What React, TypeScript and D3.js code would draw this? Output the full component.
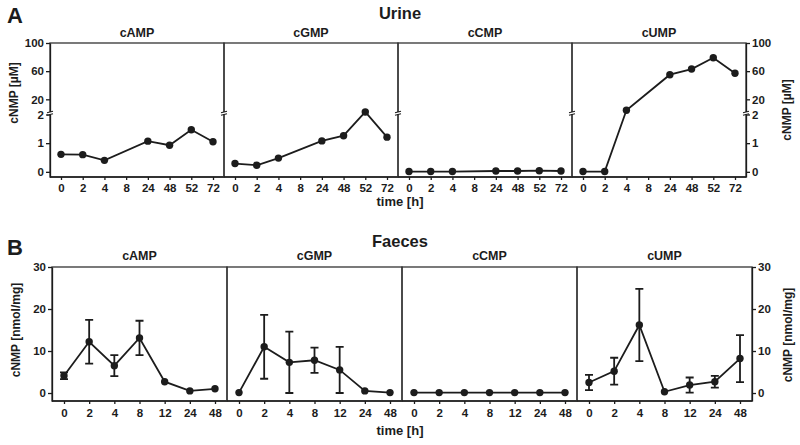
import React, { useRef, useEffect } from 'react';
import * as d3 from 'd3';

// ---- data ----
const urineTimes = ['0', '2', '4', '8', '24', '48', '52', '72'];
const urineCAMP = [0.61, 0.6, 0.4, null, 1.07, 0.93, 1.47, 1.05];
const urineCGMP = [0.29, 0.23, 0.48, null, 1.08, 1.26, 2.1, 1.21];
const urineCCMP = [0.01, 0.01, 0.01, null, 0.03, 0.03, 0.04, 0.03];
const urineCUMP = [0.01, 0.01, 4.5, null, 55, 63, 79, 57];

const faecesTimes = ['0', '2', '4', '8', '12', '24', '48'];
const faecesCAMP = [4.1, 12.2, 6.5, 13.1, 2.7, 0.5, 1.0];
const faecesCAMPErr = [0.8, 5.2, 2.5, 4.1, 0, 0, 0];
const faecesCGMP = [0.1, 11.0, 7.3, 7.8, 5.5, 0.5, 0.1];
const faecesCGMPErr = [0, 7.6, 7.3, 3.0, 5.5, 0, 0];
const faecesCCMP = [0.1, 0.1, 0.1, 0.1, 0.1, 0.1, 0.1];
const faecesCCMPErr = [0, 0, 0, 0, 0, 0, 0];
const faecesCUMP = [2.5, 5.2, 16.2, 0.3, 1.9, 2.7, 8.2];
const faecesCUMPErr = [1.8, 3.2, 8.6, 0, 1.8, 1.4, 5.6];

const nucleotides = ['cAMP', 'cGMP', 'cCMP', 'cUMP'];
const urineSeries = [urineCAMP, urineCGMP, urineCCMP, urineCUMP];
const faecesSeries = [faecesCAMP, faecesCGMP, faecesCCMP, faecesCUMP];
const faecesErrors = [faecesCAMPErr, faecesCGMPErr, faecesCCMPErr, faecesCUMPErr];

const urineLowTicks = [0, 1, 2];
const urineHighTicks = [20, 60, 100];
const faecesTicks = [0, 10, 20, 30];

const INK = '#1c1c1c';
const FONT = 'Liberation Sans, Arial, sans-serif';

const App = () => {
    const svgRef = useRef(null);

    useEffect(() => {
        const svg = d3.select(svgRef.current);
        svg.selectAll('*').remove();

        const styleAxis = (sel, fontSize = 11.5) => {
            sel.selectAll('.domain').attr('stroke', INK).attr('stroke-width', 1.3);
            sel.selectAll('.tick line').attr('stroke', INK).attr('stroke-width', 1.3);
            sel.selectAll('.tick text')
                .attr('fill', INK)
                .style('font-family', FONT)
                .style('font-size', fontSize + 'px')
                .style('font-weight', 'bold');
        };

        const boldText = (x, y, txt, size, anchor = 'middle') =>
            svg.append('text')
                .attr('x', x).attr('y', y)
                .attr('text-anchor', anchor)
                .style('font-family', FONT)
                .style('font-size', size + 'px')
                .style('font-weight', 'bold')
                .attr('fill', INK)
                .text(txt);

        const rotLabel = (x, y, txt) =>
            svg.append('text')
                .attr('transform', `translate(${x},${y}) rotate(-90)`)
                .attr('text-anchor', 'middle')
                .style('font-family', FONT)
                .style('font-size', '12px')
                .style('font-weight', 'bold')
                .attr('fill', INK)
                .text(txt);

        const intFmt = d3.format('d');

        // ===================== A: Urine =====================
        const aTop = 43, aBottom = 177, aLeft = 50, aW = 174;
        const breakLow = 114.5, breakHigh = 112;
        const yLow = d3.scaleLinear().domain([-0.18, 2]).range([aBottom, breakLow]);
        const yHigh = d3.scaleLinear().domain([2, 100]).range([breakHigh, aTop]);
        const yUrine = v => (v <= 2 ? yLow(v) : yHigh(v));

        boldText(7, 23, 'A', 22, 'start');
        boldText(400, 18.5, 'Urine', 16.5);

        nucleotides.forEach((name, i) => {
            const x0 = aLeft + i * aW, x1 = x0 + aW;
            const x = d3.scalePoint().domain(urineTimes).range([x0 + 11, x1 - 11]);
            const g = svg.append('g');

            // box
            g.append('rect')
                .attr('x', x0).attr('y', aTop)
                .attr('width', aW).attr('height', aBottom - aTop)
                .attr('fill', 'none').attr('stroke', '#333').attr('stroke-width', 1.3);

            boldText((x0 + x1) / 2, 37, name, 12.5);

            const xAxis = g.append('g')
                .attr('transform', `translate(0,${aBottom})`)
                .call(d3.axisBottom(x).tickSize(3).tickPadding(4).tickSizeOuter(0));
            styleAxis(xAxis);
            xAxis.select('.domain').attr('d', `M${x0},0H${x1}`);

            const pts = urineTimes
                .map((t, k) => ({ t, v: urineSeries[i][k] }))
                .filter(d => d.v !== null);

            g.append('path')
                .datum(pts)
                .attr('fill', 'none')
                .attr('stroke', INK)
                .attr('stroke-width', 1.8)
                .attr('d', d3.line().x(d => x(d.t)).y(d => yUrine(d.v)));

            g.selectAll('circle')
                .data(pts)
                .enter()
                .append('circle')
                .attr('cx', d => x(d.t))
                .attr('cy', d => yUrine(d.v))
                .attr('r', 3.7)
                .attr('fill', INK);
        });

        // y axes (segmented) on left and right
        const aRight = aLeft + 4 * aW;
        [
            { x: aLeft, make: d3.axisLeft },
            { x: aRight, make: d3.axisRight }
        ].forEach(({ x, make }) => {
            const low = svg.append('g').attr('transform', `translate(${x},0)`)
                .call(make(yLow).tickValues(urineLowTicks).tickFormat(intFmt)
                    .tickSize(4).tickPadding(2).tickSizeOuter(0));
            styleAxis(low);
            const high = svg.append('g').attr('transform', `translate(${x},0)`)
                .call(make(yHigh).tickValues(urineHighTicks).tickFormat(intFmt)
                    .tickSize(4).tickPadding(2).tickSizeOuter(0));
            styleAxis(high);
        });

        // break marks on every vertical boundary
        d3.range(5).forEach(k => {
            const bx = aLeft + k * aW;
            svg.append('rect')
                .attr('x', bx - 2).attr('y', breakHigh).attr('width', 4).attr('height', breakLow - breakHigh)
                .attr('fill', 'white');
            [breakHigh, breakLow].forEach(by => {
                svg.append('line')
                    .attr('x1', bx - 3).attr('y1', by + 0.8)
                    .attr('x2', bx + 3).attr('y2', by - 0.8)
                    .attr('stroke', INK).attr('stroke-width', 1.1);
            });
        });

        rotLabel(18, 93, 'cNMP [µM]');
        rotLabel(791, 110, 'cNMP [µM]');
        boldText(400, 206, 'time [h]', 13);

        // ===================== B: Faeces =====================
        const bTop = 267, bBottom = 401, bLeft = 52, bW = 175;
        const yF = d3.scaleLinear().domain([-1.9, 30]).range([bBottom, bTop]);

        boldText(7, 255, 'B', 22, 'start');
        boldText(400, 246.5, 'Faeces', 16.5);

        nucleotides.forEach((name, i) => {
            const x0 = bLeft + i * bW, x1 = x0 + bW;
            const x = d3.scalePoint().domain(faecesTimes).range([x0 + 12, x1 - 12]);
            const g = svg.append('g');

            g.append('rect')
                .attr('x', x0).attr('y', bTop)
                .attr('width', bW).attr('height', bBottom - bTop)
                .attr('fill', 'none').attr('stroke', '#333').attr('stroke-width', 1.3);

            boldText((x0 + x1) / 2, 260, name, 12.5);

            const xAxis = g.append('g')
                .attr('transform', `translate(0,${bBottom})`)
                .call(d3.axisBottom(x).tickSize(3).tickPadding(5).tickSizeOuter(0));
            styleAxis(xAxis);
            xAxis.select('.domain').attr('d', `M${x0},0H${x1}`);

            const pts = faecesTimes.map((t, k) => ({
                t,
                v: faecesSeries[i][k],
                e: faecesErrors[i][k]
            }));

            const bars = pts.filter(d => d.e > 0);
            g.selectAll('.err')
                .data(bars)
                .enter()
                .append('path')
                .attr('class', 'err')
                .attr('fill', 'none')
                .attr('stroke', INK)
                .attr('stroke-width', 1.8)
                .attr('d', d => {
                    const cx = x(d.t);
                    const yt = yF(d.v + d.e), yb = yF(Math.max(d.v - d.e, 0));
                    return `M${cx},${yt}V${yb}M${cx - 4},${yt}H${cx + 4}M${cx - 4},${yb}H${cx + 4}`;
                });

            g.append('path')
                .datum(pts)
                .attr('fill', 'none')
                .attr('stroke', INK)
                .attr('stroke-width', 1.8)
                .attr('d', d3.line().x(d => x(d.t)).y(d => yF(d.v)));

            g.selectAll('circle')
                .data(pts)
                .enter()
                .append('circle')
                .attr('cx', d => x(d.t))
                .attr('cy', d => yF(d.v))
                .attr('r', 3.7)
                .attr('fill', INK);
        });

        const bRight = bLeft + 4 * bW;
        const leftF = svg.append('g').attr('transform', `translate(${bLeft},0)`)
            .call(d3.axisLeft(yF).tickValues(faecesTicks).tickSize(4).tickPadding(2).tickSizeOuter(0));
        styleAxis(leftF);
        const rightF = svg.append('g').attr('transform', `translate(${bRight},0)`)
            .call(d3.axisRight(yF).tickValues(faecesTicks).tickSize(4).tickPadding(2).tickSizeOuter(0));
        styleAxis(rightF);

        rotLabel(20, 330, 'cNMP [nmol/mg]');
        rotLabel(792, 335, 'cNMP [nmol/mg]');
        boldText(400, 435, 'time [h]', 13);
    }, []);

    return (
        <svg
            ref={svgRef}
            width={800}
            height={445}
            style={{ position: 'absolute', left: 0, top: 0, background: 'white' }}
        />
    );
};

export default App;
